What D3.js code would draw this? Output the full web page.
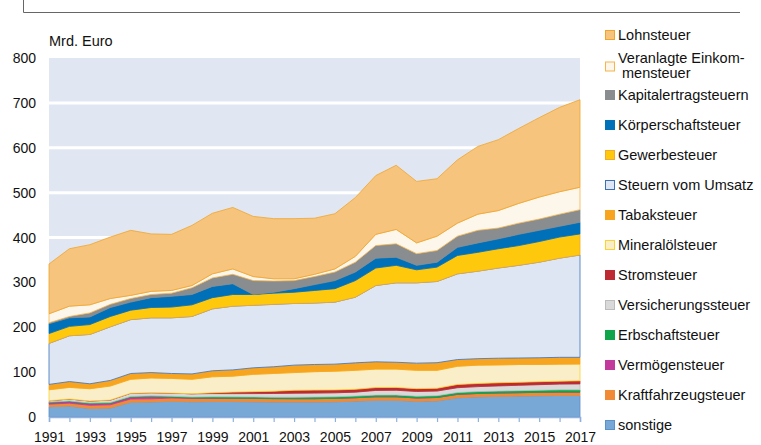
<!DOCTYPE html>
<html>
<head>
<meta charset="utf-8">
<script src="https://cdn.jsdelivr.net/npm/d3@7"></script>
<style>
  body { margin: 0; background: #fff; }
  svg { display: block; font-family: "Liberation Sans", Arial, sans-serif; }
</style>
</head>
<body>
<svg width="761" height="445"></svg>
<script>
// Steuereinnahmen in Mrd. Euro
let years = d3.range(1991, 2018);

let sonstige      = [23,24.5,19,20,33,33.5,35,34,34.5,34.5,34,33.5,33.5,33.5,34,35.5,37.5,37.5,35,36,43,45,46,46.7,47.4,48,48];
let kfz           = [5.6,6.4,7.0,7.2,7.1,7.0,7.3,7.4,7.0,7.0,7.5,7.4,7.3,7.4,7.5,7.5,7.6,7.6,7.4,7.5,7.5,7.5,7.5,7.5,7.5,7.5,7.5];
let vermoegen     = [3.4,3.4,3.4,3.2,4.0,4.6,1.8,0.8,0.6,0.4,0.3,0.2,0.1,0,0,0,0,0,0,0,0,0,0,0,0,0,0];
let erbschaft     = [1.3,1.6,1.8,1.7,1.8,2.0,2.1,2.4,3.0,3.0,3.0,3.0,3.2,3.6,3.6,3.6,3.8,4.0,4.0,4.0,4.0,4.1,4.2,4.5,4.8,5.0,5.0];
let versicherung  = [3.0,4.2,4.5,5.6,7.1,7.1,7.1,7.2,7.1,7.2,7.4,8.3,8.9,8.8,8.8,8.8,10.3,10.5,10.5,10.3,10.8,11.1,11.6,12.0,12.4,12.8,13.3];
let strom         = [0,0,0,0,0,0,0,0,1.8,3.4,4.3,5.1,6.5,6.6,6.5,6.3,6.4,6.3,6.3,6.2,7.2,7.0,7.0,6.6,6.6,6.6,6.9];
let mineraloel    = [24.4,25.9,27.3,31.3,31.0,32.8,32.7,32.2,35.6,35.5,38.5,39.5,39.5,41.1,41.6,42.3,41.1,40.8,40.8,40.0,40.5,40.9,39.7,39.7,38.3,37.9,37.3];
let tabak         = [11.9,13,11,12.5,13,12,11,12,13.4,14,14.6,15,16.6,16,15.8,16.7,16.3,15.3,16,17,15,14.4,15,14.5,15,15.2,15];
let umsatz        = [91.4,102,110,119.5,120,122,124,128,138,142,139.4,139,137.4,137,138.2,146.3,170,177,179,181,191,195,201,206.5,213,221,228];
let gewerbe       = [22,21,22,23,21,23,24,26,25,26,24,25,25,28,30,37,39,39,29,32,41,42,43,44,46,47,47];
let koerperschaft = [22,19,17,20,18,22,24,23,25,24,0,2,8,13,18,19,22,18,10,11,18,21,22,25,25,24,26];
let kapital       = [2,3,9,7,8,7,7,15,19,21,31,25,18,18,19,22,28,30,26,26,25,28,24,25,25,27,28];
let veranlagt     = [20,23,18,13,7,7,6,5,9,12,9,5,4,5,7,13,25,32,24,32,29,36,39,44,49,50,50];
let lohn          = [111,128,134,137,145,128,125,134,135,137,134,134,134,125,123,131,131,143,137,128,141,151,158,167,177,188,195];

let yTicks = [0,100,200,300,400,500,600,700,800];

// unten nach oben
let series = [
  {key: "sonstige", values: sonstige, fill: "#78a8d6", stroke: "#5b90ca"},
  {key: "Kraftfahrzeugsteuer", values: kfz, fill: "#f08a37", stroke: "#f08a37"},
  {key: "Vermögensteuer", values: vermoegen, fill: "#c2399c", stroke: "#c2399c"},
  {key: "Erbschaftsteuer", values: erbschaft, fill: "#10a54a", stroke: "#10a54a"},
  {key: "Versicherungssteuer", values: versicherung, fill: "#d9d9d9", stroke: "#bcbcbc"},
  {key: "Stromsteuer", values: strom, fill: "#be2a32", stroke: "#be2a32"},
  {key: "Mineralölsteuer", values: mineraloel, fill: "#f9eec7", stroke: "#fcd22c"},
  {key: "Tabaksteuer", values: tabak, fill: "#f7a520", stroke: "#f7a520"},
  {key: "Steuern vom Umsatz", values: umsatz, fill: "#dfe6f3", stroke: "#3b6fb6"},
  {key: "Gewerbesteuer", values: gewerbe, fill: "#fec80c", stroke: "#f3a92a"},
  {key: "Körperschaftsteuer", values: koerperschaft, fill: "#0071b9", stroke: "#0071b9"},
  {key: "Kapitalertragsteuern", values: kapital, fill: "#8a8d8f", stroke: "#8a8d8f"},
  {key: "Veranlagte Einkommensteuer", values: veranlagt, fill: "#fdf6ea", stroke: "#f5b54a"},
  {key: "Lohnsteuer", values: lohn, fill: "#f6c47c", stroke: "#f0a42c"}
];

let table = years.map((yr, i) => {
  let row = {year: yr};
  series.forEach(s => row[s.key] = s.values[i]);
  return row;
});

let svg = d3.select("svg");

let x = d3.scaleLinear().domain([1991, 2017]).range([49, 580]);
let y = d3.scaleLinear().domain([0, 800]).range([417, 58]);

// Rahmen oben
svg.append("path")
  .attr("d", "M23.5,0V12.5H740")
  .attr("fill", "none")
  .attr("stroke", "#666")
  .attr("stroke-width", 1);

// Hintergrund + Gitter
svg.append("rect")
  .attr("x", x(1991)).attr("y", y(800))
  .attr("width", x(2017) - x(1991)).attr("height", y(0) - y(800))
  .attr("fill", "#e0e7f3");

svg.append("g").selectAll("line")
  .data(yTicks.filter(d => d > 0 && d < 800))
  .enter().append("line")
  .attr("x1", x(1991)).attr("x2", x(2017))
  .attr("y1", d => y(d)).attr("y2", d => y(d))
  .attr("stroke", "#fff")
  .attr("stroke-width", 3);

let stack = d3.stack().keys(series.map(s => s.key));
let layers = stack(table);

let area = d3.area()
  .x(d => x(d.data.year))
  .y0(d => y(d[0]))
  .y1(d => y(d[1]));

svg.append("g").selectAll("path")
  .data(layers)
  .enter().append("path")
  .attr("d", area)
  .attr("fill", (d, i) => series[i].fill)
  .attr("stroke", (d, i) => series[i].stroke)
  .attr("stroke-width", 0.8)
  .attr("stroke-linejoin", "round");

// y-Achse
svg.append("g").selectAll("text")
  .data(yTicks)
  .enter().append("text")
  .attr("x", 36)
  .attr("y", d => y(d))
  .attr("dy", "0.36em")
  .attr("text-anchor", "end")
  .attr("font-size", 14)
  .attr("fill", "#111")
  .text(d => d);

svg.append("text")
  .attr("x", 49).attr("y", 46)
  .attr("font-size", 14.5)
  .attr("fill", "#111")
  .text("Mrd. Euro");

// x-Achse
let xAxis = svg.append("g")
  .attr("transform", `translate(0,${y(0)})`)
  .call(d3.axisBottom(x)
    .tickValues(years)
    .tickSize(5)
    .tickPadding(10)
    .tickFormat(d => d % 2 === 1 ? d : ""));

xAxis.select(".domain").attr("stroke", "#8fb0dc").attr("stroke-width", 1.5);
xAxis.selectAll(".tick line").attr("stroke", "#8fb0dc").attr("stroke-width", 1.2);
xAxis.selectAll(".tick text")
  .attr("font-size", 14)
  .attr("font-family", "Liberation Sans, Arial, sans-serif")
  .attr("fill", "#111");

// Legende
let legend = svg.append("g");
let legendItems = series.slice().reverse();
legendItems.forEach((s, i) => {
  let top = 30.5 + i * 30;
  if (i === 1) top = 62;
  let g = legend.append("g");
  g.append("rect")
    .attr("x", 605.5).attr("y", top)
    .attr("width", 9).attr("height", 9)
    .attr("fill", s.fill)
    .attr("stroke", s.stroke)
    .attr("stroke-width", 1);
  if (s.key === "Veranlagte Einkommensteuer") {
    g.append("text").attr("x", 618).attr("y", 63).attr("font-size", 14.5).attr("fill", "#111")
      .text("Veranlagte Einkom-");
    g.append("text").attr("x", 622).attr("y", 78).attr("font-size", 14.5).attr("fill", "#111")
      .text("mensteuer");
  } else {
    g.append("text")
      .attr("x", 618).attr("y", top + 9.5)
      .attr("font-size", 14.5)
      .attr("fill", "#111")
      .text(s.key);
  }
});
</script>
</body>
</html>
